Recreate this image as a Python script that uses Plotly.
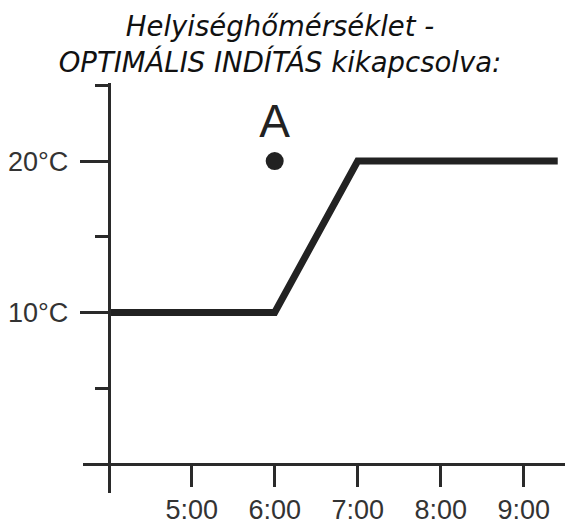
import plotly.graph_objects as go

# Data
times = [4, 6, 7, 9.41]          # hours
temps = [10, 10, 20, 20]         # °C
point_time = [6]
point_temp = [20]
point_label = ["A"]
x_tickvals = [5, 6, 7, 8, 9]
x_ticktext = ["5:00", "6:00", "7:00", "8:00", "9:00"]
y_tickvals = [10, 20]
y_ticktext = ["10°C", "20°C"]
y_minor_vals = [5, 15, 25]

# The page body has an 8px default margin; the figure is sized to fit the window.
OFF = 8
W, H = 573 - OFF, 525 - OFF
ML, MR, MT, MB = 83 - OFF, 0, 83 - OFF, 30
plot_w = W - ML - MR
plot_h = H - MT - MB

axis_color = "#2a2a2a"

fig = go.Figure()
fig.add_trace(go.Scatter(
    x=times, y=temps, mode="lines",
    line=dict(color="#222222", width=7),
    hoverinfo="skip", showlegend=False,
))
fig.add_trace(go.Scatter(
    x=point_time, y=point_temp, mode="markers+text",
    marker=dict(color="#222222", size=18),
    text=point_label, textposition="top center",
    textfont=dict(family="Liberation Sans, Arial", size=46, color="#222222"),
    hoverinfo="skip", showlegend=False,
))

x0_px = 108.7 - OFF   # x position of 4:00
px_per_hour = 83.0
y0_px = 465.5 - OFF   # pixel of 0 °C
px_per_deg = 15.2

x_range = [4 - (x0_px - ML) / px_per_hour, 4 + (W - MR - x0_px) / px_per_hour]
y_range = [-(H - MB - y0_px) / px_per_deg, (y0_px - MT) / px_per_deg]

fig.update_layout(
    width=W, height=H,
    margin=dict(l=ML, r=MR, t=MT, b=MB, pad=0),
    plot_bgcolor="white", paper_bgcolor="white",
    title=dict(
        text="Helyiséghőmérséklet -<br>OPTIMÁLIS INDÍTÁS kikapcsolva:",
        font=dict(family="DejaVu Sans, Verdana", size=27.5, color="#111111", style="italic"),
        x=(280 - OFF) / W, xanchor="center", xref="container",
        y=1 - 28 / H, yanchor="top", yref="container",
    ),
    xaxis=dict(
        range=x_range, showgrid=False, zeroline=False,
        showline=True, linecolor=axis_color, linewidth=3,
        anchor="free", position=(H - MB - y0_px) / plot_h,
        tickmode="array", tickvals=x_tickvals, ticktext=x_ticktext,
        ticks="outside", ticklen=21, tickwidth=3, tickcolor=axis_color,
        tickfont=dict(family="Liberation Sans, Arial", size=27, color="#333333"),
        fixedrange=True,
    ),
    yaxis=dict(
        range=y_range, showgrid=False, zeroline=False,
        showline=True, linecolor=axis_color, linewidth=3,
        anchor="free", position=(x0_px - ML) / plot_w,
        tickmode="array", tickvals=y_tickvals, ticktext=y_ticktext,
        ticks="outside", ticklen=28, tickwidth=3, tickcolor=axis_color,
        ticklabelstandoff=6,
        tickfont=dict(family="Liberation Sans, Arial", size=27, color="#333333"),
        minor=dict(tickmode="array", tickvals=y_minor_vals, ticks="outside",
                   ticklen=13, tickwidth=3, tickcolor=axis_color),
        fixedrange=True,
    ),
)

fig.write_html("out.html")
